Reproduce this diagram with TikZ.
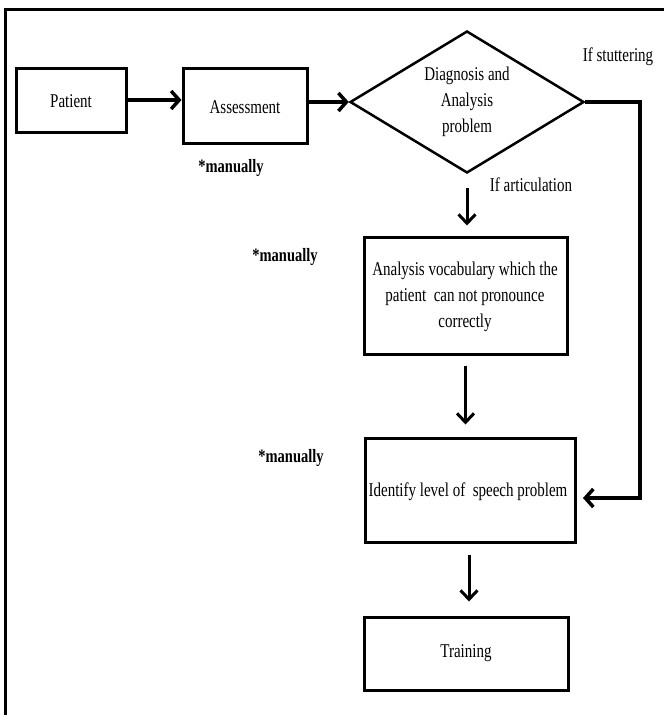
\documentclass[tikz,border=0pt]{standalone}
\usepackage{fontspec}
\setmainfont{Liberation Serif}
\usepackage{graphicx}
\usetikzlibrary{shapes.geometric,arrows.meta}
\newcommand\vs[1]{\scalebox{1}[1.3]{#1}}
\newcommand\vml[1]{\scalebox{1}[1.3]{\begin{tabular}{@{}c@{}}#1\end{tabular}}}
\begin{document}
\begin{tikzpicture}[x=1pt,y=-1pt,
  box/.style={draw, line width=3pt, inner sep=0pt},
  lbl/.style={inner sep=0pt, font=\fontsize{15}{20}\selectfont},
  man/.style={inner sep=0pt, font=\fontsize{14.5}{20}\selectfont\bfseries},
  arr/.style={line width=3.5pt, -{Straight Barb[length=8pt,width=18pt]}},
  varr/.style={line width=3pt, -{Straight Barb[length=9pt,width=17pt]}}]
\useasboundingbox (0,0) rectangle (664,715);
\draw[line width=3pt] (5,715) -- (5,9) -- (664,9);
% boxes
\node[box, minimum width=110pt, minimum height=64pt] (pat) at (71,100) {};
\node[lbl] (pattext) at (71,101) {\vs{Patient}};
\node[box, minimum width=124pt, minimum height=75pt] (ass) at (245,105.5) {};
\node[lbl] (asstext) at (245,107) {\vs{Assessment}};
\node[draw, diamond, line width=2.5pt, inner sep=0pt, minimum width=234pt, minimum height=142pt] (dia) at (467,102) {};
\node[lbl] (diatext) at (467,101) {\vml{Diagnosis and\\Analysis\\problem}};
\node[box, minimum width=203pt, minimum height=117pt] (anal) at (465.5,295.5) {};
\node[lbl] (analtext) at (465,296) {\vml{Analysis vocabulary which the\\patient\ \ can not pronounce\\correctly}};
\node[box, minimum width=210pt, minimum height=104pt] (iden) at (470,490) {};
\node[lbl] (identext) at (468,492) {\vs{Identify level of\ \ speech problem}};
\node[box, minimum width=204pt, minimum height=73pt] (train) at (466,653.5) {};
\node[lbl] (traintext) at (466,653) {\vs{Training}};
% labels
\node[lbl] (stut) at (618,57) {\vs{If stuttering}};
\node[lbl] (artic) at (531,185) {\vs{If articulation}};
\node[man] (man1) at (231,168) {\vs{*manually}};
\node[man] (man2) at (285,257) {\vs{*manually}};
\node[man] (man3) at (291,458) {\vs{*manually}};
% connectors
\draw[arr] (pat.east) -- (ass.west |- pat.east);
\draw[arr] (ass.east |- dia.west) -- (dia.west);
\coordinate (sv) at (640,498);
\coordinate (sin) at (583,498);
\draw[line width=3.5pt, -{Straight Barb[length=8pt,width=18pt]}, line join=miter] (dia.east) -| (sv) -- (sin);
\coordinate (a1) at ([yshift=-14pt]dia.south);
\draw[varr, shorten >=10pt] (a1) -- (a1 |- anal.north);
\coordinate (a2) at ([yshift=-10pt]anal.south);
\draw[varr, shorten >=12pt] (a2) -- (a2 |- iden.north);
\coordinate (a3) at ([yshift=-11pt,xshift=-1pt]iden.south);
\draw[varr, shorten >=14pt] (a3) -- (a3 |- train.north);
\end{tikzpicture}
\end{document}
